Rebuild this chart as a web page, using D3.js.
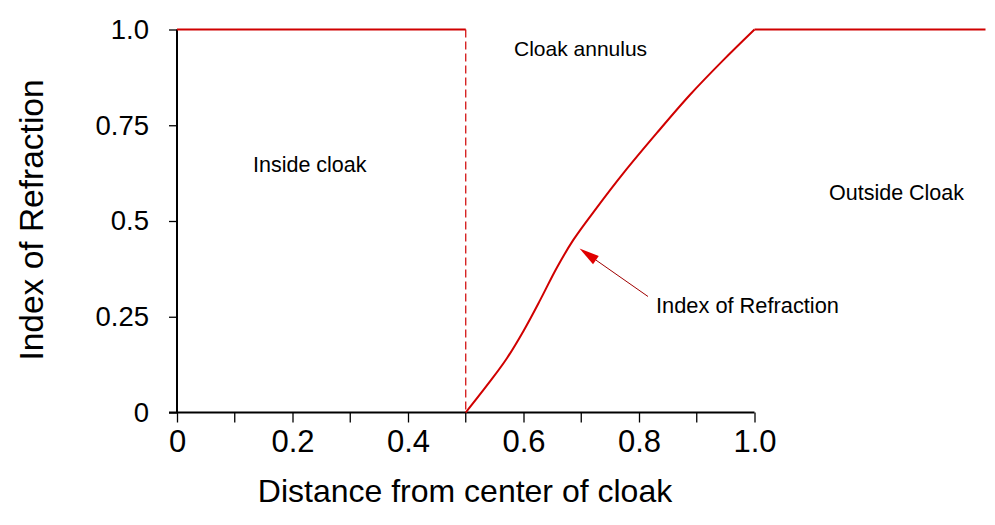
<!DOCTYPE html>
<html><head><meta charset="utf-8">
<script src="https://cdn.jsdelivr.net/npm/d3@7"></script>
<style>body{margin:0;background:#fff}svg{display:block;font-family:"Liberation Sans",Arial,sans-serif}</style>
</head><body><svg id="c" width="995" height="525"></svg>
<script>
const xTickValues = [0, 0.2, 0.4, 0.6, 0.8, 1.0];
const xTickLabels = ["0", "0.2", "0.4", "0.6", "0.8", "1.0"];
const xMinorTicks = [0.1, 0.3, 0.5, 0.7, 0.9];
const yTickValues = [0, 0.25, 0.5, 0.75, 1.0];
const yTickLabels = ["0", "0.25", "0.5", "0.75", "1.0"];
const insideX = [0, 0.5];
const insideN = [1, 1];
const annulusX = [0.5, 0.542, 0.571, 0.600, 0.629, 0.657, 0.686, 0.727, 0.773, 0.831, 0.888, 0.946, 1.0];
const annulusN = [0, 0.081, 0.141, 0.213, 0.294, 0.376, 0.450, 0.535, 0.625, 0.730, 0.829, 0.920, 1.0];
const outsideX = [1.0, 1.4];
const outsideN = [1, 1];
const boundaryX = [0.5, 0.5];
const boundaryN = [1, 0];
const labels = ["Inside cloak", "Cloak annulus", "Outside Cloak", "Index of Refraction"];

const svg = d3.select("#c");
const x = d3.scaleLinear().domain([0, 1.4]).range([177, 985.5]);
const y = d3.scaleLinear().domain([0, 1]).range([412.5, 29.5]);
const red = "#d00000";
const FONT = "Liberation Sans, Arial, sans-serif";

// axes
const xAxis = d3.axisBottom(x).tickValues(xTickValues).tickFormat((d,i)=>xTickLabels[i]).tickSize(10).tickSizeOuter(0);
const gx = svg.append("g").attr("transform","translate(0,412.5)").call(xAxis);
gx.select(".domain").remove();
gx.append("line").attr("x1",x(0)-8).attr("x2",x(1.0)).attr("y1",0).attr("y2",0).attr("stroke","#000").attr("stroke-width",2);
gx.selectAll(".tick line").attr("stroke","#000").attr("stroke-width",1.3);
gx.selectAll(".tick text").attr("font-size",31).attr("fill","#000").attr("dy","0.71em").attr("y",17).attr("font-family",FONT);
gx.selectAll(".minor").data(xMinorTicks).enter().append("line")
  .attr("x1",d=>x(d)).attr("x2",d=>x(d)).attr("y1",0).attr("y2",10).attr("stroke","#000").attr("stroke-width",1.3);

const yAxis = d3.axisLeft(y).tickValues(yTickValues).tickFormat((d,i)=>yTickLabels[i]).tickSize(8).tickSizeOuter(0);
const gy = svg.append("g").attr("transform","translate(177,0)").call(yAxis);
gy.select(".domain").remove();
gy.append("line").attr("x1",0).attr("x2",0).attr("y1",y(1)).attr("y2",y(0)).attr("stroke","#000").attr("stroke-width",2);
gy.selectAll(".tick line").attr("stroke","#000").attr("stroke-width",1.3);
gy.selectAll(".tick text").attr("font-size",27.5).attr("fill","#000").attr("x",-28).attr("font-family",FONT);

// titles
svg.append("text").attr("x",465).attr("y",502).attr("text-anchor","middle").attr("font-size",32).text("Distance from center of cloak");
svg.append("text").attr("transform","translate(43,220) rotate(-90)").attr("text-anchor","middle").attr("font-size",33.5).text("Index of Refraction");

// data lines
const line = d3.line().x(d=>x(d[0])).y(d=>y(d[1]));
const zip = (a,b)=>a.map((v,i)=>[v,b[i]]);
svg.append("path").attr("d",line(zip(insideX,insideN))).attr("fill","none").attr("stroke",red).attr("stroke-width",2);
svg.append("path").attr("d",line(zip(boundaryX,boundaryN))).attr("fill","none").attr("stroke",red).attr("stroke-width",1.2).attr("stroke-dasharray","8,4");
svg.append("path").attr("d",d3.line().x(d=>x(d[0])).y(d=>y(d[1])).curve(d3.curveCatmullRom.alpha(0.5))(zip(annulusX,annulusN))).attr("fill","none").attr("stroke",red).attr("stroke-width",2);
svg.append("path").attr("d",line(zip(outsideX,outsideN))).attr("fill","none").attr("stroke",red).attr("stroke-width",2);

// annotations
svg.append("text").attr("x",253).attr("y",172).attr("font-size",21.5).text(labels[0]);
svg.append("text").attr("x",514).attr("y",56).attr("font-size",21).text(labels[1]);
svg.append("text").attr("x",829).attr("y",200).attr("font-size",21.5).text(labels[2]);
svg.append("text").attr("x",656).attr("y",313).attr("font-size",21.8).text(labels[3]);

// arrow
const tip = [x(0.697), y(0.428)];
const tail = [648, 296.5];
const ang = Math.atan2(tail[1]-tip[1], tail[0]-tip[0]);
const L = 20, W = 5;
const bx = tip[0]+L*Math.cos(ang), by = tip[1]+L*Math.sin(ang);
svg.append("line").attr("x1",tail[0]).attr("y1",tail[1]).attr("x2",bx).attr("y2",by).attr("stroke","#a00000").attr("stroke-width",1);
const px = -Math.sin(ang), py = Math.cos(ang);
svg.append("path").attr("d",`M${tip[0]},${tip[1]}L${bx+W*px},${by+W*py}L${bx-W*px},${by-W*py}Z`).attr("fill","#e00000");
</script></body></html>
